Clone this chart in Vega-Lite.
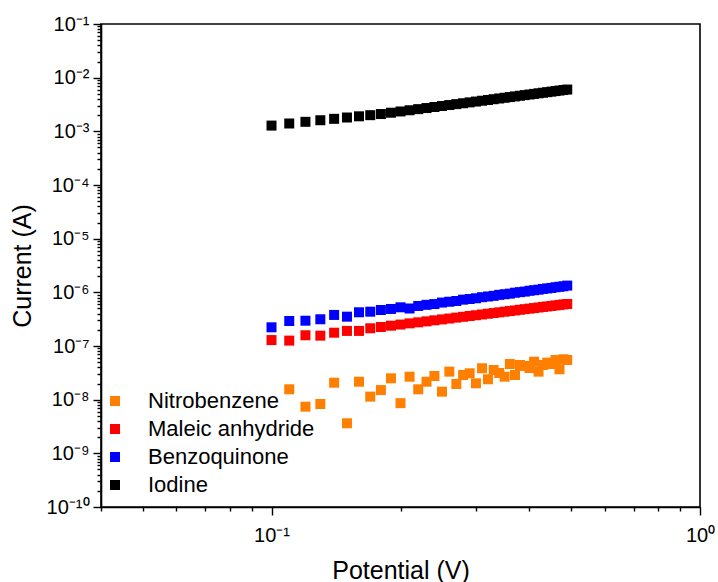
{
  "$schema": "https://vega.github.io/schema/vega-lite/v6.json",
  "width": 599,
  "height": 483,
  "autosize": {"type": "none"},
  "padding": {"left": 101, "top": 24, "right": 18, "bottom": 75},
  "background": "white",
  "config": {
    "font": "Liberation Sans",
    "view": {"stroke": "black", "strokeWidth": 1.6},
    "axis": {
      "grid": false,
      "domainColor": "black",
      "domainWidth": 1.6,
      "tickColor": "black",
      "tickWidth": 1.4,
      "labelColor": "black",
      "titleColor": "black",
      "labelFont": "Liberation Sans",
      "titleFont": "Liberation Sans",
      "labelFontSize": 20,
      "titleFontSize": 25,
      "titleFontWeight": "normal",
      "labelOverlap": false,
      "labelFlush": false
    }
  },
  "data": {
    "values": [
      {"Series": "Iodine", "Potential": 0.10, "Current": 1.28e-3},
      {"Series": "Iodine", "Potential": 0.11, "Current": 1.40e-3},
      {"Series": "Iodine", "Potential": 0.12, "Current": 1.505e-3},
      {"Series": "Iodine", "Potential": 0.13, "Current": 1.61e-3},
      {"Series": "Iodine", "Potential": 0.14, "Current": 1.71e-3},
      {"Series": "Iodine", "Potential": 0.15, "Current": 1.81e-3},
      {"Series": "Iodine", "Potential": 0.16, "Current": 1.905e-3},
      {"Series": "Iodine", "Potential": 0.17, "Current": 2.0e-3},
      {"Series": "Iodine", "Potential": 0.18, "Current": 2.10e-3},
      {"Series": "Iodine", "Potential": 0.19, "Current": 2.223e-3},
      {"Series": "Iodine", "Potential": 0.20, "Current": 2.346e-3},
      {"Series": "Iodine", "Potential": 0.21, "Current": 2.469e-3},
      {"Series": "Iodine", "Potential": 0.22, "Current": 2.592e-3},
      {"Series": "Iodine", "Potential": 0.23, "Current": 2.716e-3},
      {"Series": "Iodine", "Potential": 0.24, "Current": 2.841e-3},
      {"Series": "Iodine", "Potential": 0.25, "Current": 2.965e-3},
      {"Series": "Iodine", "Potential": 0.26, "Current": 3.090e-3},
      {"Series": "Iodine", "Potential": 0.27, "Current": 3.214e-3},
      {"Series": "Iodine", "Potential": 0.28, "Current": 3.339e-3},
      {"Series": "Iodine", "Potential": 0.29, "Current": 3.465e-3},
      {"Series": "Iodine", "Potential": 0.30, "Current": 3.590e-3},
      {"Series": "Iodine", "Potential": 0.31, "Current": 3.716e-3},
      {"Series": "Iodine", "Potential": 0.32, "Current": 3.842e-3},
      {"Series": "Iodine", "Potential": 0.33, "Current": 3.968e-3},
      {"Series": "Iodine", "Potential": 0.34, "Current": 4.095e-3},
      {"Series": "Iodine", "Potential": 0.35, "Current": 4.222e-3},
      {"Series": "Iodine", "Potential": 0.36, "Current": 4.348e-3},
      {"Series": "Iodine", "Potential": 0.37, "Current": 4.475e-3},
      {"Series": "Iodine", "Potential": 0.38, "Current": 4.602e-3},
      {"Series": "Iodine", "Potential": 0.39, "Current": 4.730e-3},
      {"Series": "Iodine", "Potential": 0.40, "Current": 4.857e-3},
      {"Series": "Iodine", "Potential": 0.41, "Current": 4.985e-3},
      {"Series": "Iodine", "Potential": 0.42, "Current": 5.112e-3},
      {"Series": "Iodine", "Potential": 0.43, "Current": 5.240e-3},
      {"Series": "Iodine", "Potential": 0.44, "Current": 5.368e-3},
      {"Series": "Iodine", "Potential": 0.45, "Current": 5.496e-3},
      {"Series": "Iodine", "Potential": 0.46, "Current": 5.624e-3},
      {"Series": "Iodine", "Potential": 0.47, "Current": 5.753e-3},
      {"Series": "Iodine", "Potential": 0.48, "Current": 5.881e-3},
      {"Series": "Iodine", "Potential": 0.49, "Current": 6.010e-3},

      {"Series": "Benzoquinone", "Potential": 0.10, "Current": 2.23e-7},
      {"Series": "Benzoquinone", "Potential": 0.11, "Current": 2.92e-7},
      {"Series": "Benzoquinone", "Potential": 0.12, "Current": 2.96e-7},
      {"Series": "Benzoquinone", "Potential": 0.13, "Current": 3.15e-7},
      {"Series": "Benzoquinone", "Potential": 0.14, "Current": 3.79e-7},
      {"Series": "Benzoquinone", "Potential": 0.15, "Current": 3.52e-7},
      {"Series": "Benzoquinone", "Potential": 0.16, "Current": 4.25e-7},
      {"Series": "Benzoquinone", "Potential": 0.17, "Current": 4.36e-7},
      {"Series": "Benzoquinone", "Potential": 0.18, "Current": 4.69e-7},
      {"Series": "Benzoquinone", "Potential": 0.19, "Current": 4.90e-7},
      {"Series": "Benzoquinone", "Potential": 0.20, "Current": 5.26e-7},
      {"Series": "Benzoquinone", "Potential": 0.21, "Current": 5.00e-7},
      {"Series": "Benzoquinone", "Potential": 0.22, "Current": 5.57e-7},
      {"Series": "Benzoquinone", "Potential": 0.23, "Current": 5.85e-7},
      {"Series": "Benzoquinone", "Potential": 0.24, "Current": 6.05e-7},
      {"Series": "Benzoquinone", "Potential": 0.25, "Current": 6.45e-7},
      {"Series": "Benzoquinone", "Potential": 0.26, "Current": 6.68e-7},
      {"Series": "Benzoquinone", "Potential": 0.27, "Current": 6.90e-7},
      {"Series": "Benzoquinone", "Potential": 0.28, "Current": 7.30e-7},
      {"Series": "Benzoquinone", "Potential": 0.29, "Current": 7.52e-7},
      {"Series": "Benzoquinone", "Potential": 0.30, "Current": 7.75e-7},
      {"Series": "Benzoquinone", "Potential": 0.31, "Current": 8.12e-7},
      {"Series": "Benzoquinone", "Potential": 0.32, "Current": 8.37e-7},
      {"Series": "Benzoquinone", "Potential": 0.33, "Current": 8.60e-7},
      {"Series": "Benzoquinone", "Potential": 0.34, "Current": 8.98e-7},
      {"Series": "Benzoquinone", "Potential": 0.35, "Current": 9.22e-7},
      {"Series": "Benzoquinone", "Potential": 0.36, "Current": 9.45e-7},
      {"Series": "Benzoquinone", "Potential": 0.37, "Current": 9.85e-7},
      {"Series": "Benzoquinone", "Potential": 0.38, "Current": 1.008e-6},
      {"Series": "Benzoquinone", "Potential": 0.39, "Current": 1.032e-6},
      {"Series": "Benzoquinone", "Potential": 0.40, "Current": 1.070e-6},
      {"Series": "Benzoquinone", "Potential": 0.41, "Current": 1.095e-6},
      {"Series": "Benzoquinone", "Potential": 0.42, "Current": 1.120e-6},
      {"Series": "Benzoquinone", "Potential": 0.43, "Current": 1.158e-6},
      {"Series": "Benzoquinone", "Potential": 0.44, "Current": 1.183e-6},
      {"Series": "Benzoquinone", "Potential": 0.45, "Current": 1.207e-6},
      {"Series": "Benzoquinone", "Potential": 0.46, "Current": 1.245e-6},
      {"Series": "Benzoquinone", "Potential": 0.47, "Current": 1.270e-6},
      {"Series": "Benzoquinone", "Potential": 0.48, "Current": 1.296e-6},
      {"Series": "Benzoquinone", "Potential": 0.49, "Current": 1.335e-6},

      {"Series": "Maleic anhydride", "Potential": 0.10, "Current": 1.29e-7},
      {"Series": "Maleic anhydride", "Potential": 0.11, "Current": 1.26e-7},
      {"Series": "Maleic anhydride", "Potential": 0.12, "Current": 1.585e-7},
      {"Series": "Maleic anhydride", "Potential": 0.13, "Current": 1.56e-7},
      {"Series": "Maleic anhydride", "Potential": 0.14, "Current": 1.77e-7},
      {"Series": "Maleic anhydride", "Potential": 0.15, "Current": 1.91e-7},
      {"Series": "Maleic anhydride", "Potential": 0.16, "Current": 1.91e-7},
      {"Series": "Maleic anhydride", "Potential": 0.17, "Current": 2.14e-7},
      {"Series": "Maleic anhydride", "Potential": 0.18, "Current": 2.26e-7},
      {"Series": "Maleic anhydride", "Potential": 0.19, "Current": 2.39e-7},
      {"Series": "Maleic anhydride", "Potential": 0.20, "Current": 2.51e-7},
      {"Series": "Maleic anhydride", "Potential": 0.21, "Current": 2.64e-7},
      {"Series": "Maleic anhydride", "Potential": 0.22, "Current": 2.76e-7},
      {"Series": "Maleic anhydride", "Potential": 0.23, "Current": 2.88e-7},
      {"Series": "Maleic anhydride", "Potential": 0.24, "Current": 3.01e-7},
      {"Series": "Maleic anhydride", "Potential": 0.25, "Current": 3.13e-7},
      {"Series": "Maleic anhydride", "Potential": 0.26, "Current": 3.25e-7},
      {"Series": "Maleic anhydride", "Potential": 0.27, "Current": 3.38e-7},
      {"Series": "Maleic anhydride", "Potential": 0.28, "Current": 3.50e-7},
      {"Series": "Maleic anhydride", "Potential": 0.29, "Current": 3.62e-7},
      {"Series": "Maleic anhydride", "Potential": 0.30, "Current": 3.74e-7},
      {"Series": "Maleic anhydride", "Potential": 0.31, "Current": 3.87e-7},
      {"Series": "Maleic anhydride", "Potential": 0.32, "Current": 3.99e-7},
      {"Series": "Maleic anhydride", "Potential": 0.33, "Current": 4.11e-7},
      {"Series": "Maleic anhydride", "Potential": 0.34, "Current": 4.24e-7},
      {"Series": "Maleic anhydride", "Potential": 0.35, "Current": 4.36e-7},
      {"Series": "Maleic anhydride", "Potential": 0.36, "Current": 4.48e-7},
      {"Series": "Maleic anhydride", "Potential": 0.37, "Current": 4.60e-7},
      {"Series": "Maleic anhydride", "Potential": 0.38, "Current": 4.73e-7},
      {"Series": "Maleic anhydride", "Potential": 0.39, "Current": 4.85e-7},
      {"Series": "Maleic anhydride", "Potential": 0.40, "Current": 4.97e-7},
      {"Series": "Maleic anhydride", "Potential": 0.41, "Current": 5.09e-7},
      {"Series": "Maleic anhydride", "Potential": 0.42, "Current": 5.22e-7},
      {"Series": "Maleic anhydride", "Potential": 0.43, "Current": 5.34e-7},
      {"Series": "Maleic anhydride", "Potential": 0.44, "Current": 5.46e-7},
      {"Series": "Maleic anhydride", "Potential": 0.45, "Current": 5.58e-7},
      {"Series": "Maleic anhydride", "Potential": 0.46, "Current": 5.70e-7},
      {"Series": "Maleic anhydride", "Potential": 0.47, "Current": 5.83e-7},
      {"Series": "Maleic anhydride", "Potential": 0.48, "Current": 5.95e-7},
      {"Series": "Maleic anhydride", "Potential": 0.49, "Current": 6.07e-7},

      {"Series": "Nitrobenzene", "Potential": 0.11, "Current": 1.56e-8},
      {"Series": "Nitrobenzene", "Potential": 0.12, "Current": 7.4e-9},
      {"Series": "Nitrobenzene", "Potential": 0.13, "Current": 8.3e-9},
      {"Series": "Nitrobenzene", "Potential": 0.14, "Current": 2.07e-8},
      {"Series": "Nitrobenzene", "Potential": 0.15, "Current": 3.63e-9},
      {"Series": "Nitrobenzene", "Potential": 0.16, "Current": 2.16e-8},
      {"Series": "Nitrobenzene", "Potential": 0.17, "Current": 1.14e-8},
      {"Series": "Nitrobenzene", "Potential": 0.18, "Current": 1.51e-8},
      {"Series": "Nitrobenzene", "Potential": 0.19, "Current": 2.50e-8},
      {"Series": "Nitrobenzene", "Potential": 0.20, "Current": 8.6e-9},
      {"Series": "Nitrobenzene", "Potential": 0.21, "Current": 2.68e-8},
      {"Series": "Nitrobenzene", "Potential": 0.22, "Current": 1.56e-8},
      {"Series": "Nitrobenzene", "Potential": 0.23, "Current": 2.16e-8},
      {"Series": "Nitrobenzene", "Potential": 0.24, "Current": 2.76e-8},
      {"Series": "Nitrobenzene", "Potential": 0.25, "Current": 1.41e-8},
      {"Series": "Nitrobenzene", "Potential": 0.26, "Current": 3.33e-8},
      {"Series": "Nitrobenzene", "Potential": 0.27, "Current": 1.96e-8},
      {"Series": "Nitrobenzene", "Potential": 0.28, "Current": 2.88e-8},
      {"Series": "Nitrobenzene", "Potential": 0.29, "Current": 3.10e-8},
      {"Series": "Nitrobenzene", "Potential": 0.30, "Current": 2.02e-8},
      {"Series": "Nitrobenzene", "Potential": 0.31, "Current": 3.85e-8},
      {"Series": "Nitrobenzene", "Potential": 0.32, "Current": 2.40e-8},
      {"Series": "Nitrobenzene", "Potential": 0.33, "Current": 3.57e-8},
      {"Series": "Nitrobenzene", "Potential": 0.34, "Current": 3.14e-8},
      {"Series": "Nitrobenzene", "Potential": 0.35, "Current": 2.68e-8},
      {"Series": "Nitrobenzene", "Potential": 0.36, "Current": 4.62e-8},
      {"Series": "Nitrobenzene", "Potential": 0.37, "Current": 2.88e-8},
      {"Series": "Nitrobenzene", "Potential": 0.38, "Current": 4.43e-8},
      {"Series": "Nitrobenzene", "Potential": 0.39, "Current": 4.25e-8},
      {"Series": "Nitrobenzene", "Potential": 0.40, "Current": 3.89e-8},
      {"Series": "Nitrobenzene", "Potential": 0.41, "Current": 5.10e-8},
      {"Series": "Nitrobenzene", "Potential": 0.42, "Current": 3.33e-8},
      {"Series": "Nitrobenzene", "Potential": 0.43, "Current": 4.43e-8},
      {"Series": "Nitrobenzene", "Potential": 0.44, "Current": 4.89e-8},
      {"Series": "Nitrobenzene", "Potential": 0.45, "Current": 4.62e-8},
      {"Series": "Nitrobenzene", "Potential": 0.46, "Current": 5.49e-8},
      {"Series": "Nitrobenzene", "Potential": 0.47, "Current": 3.68e-8},
      {"Series": "Nitrobenzene", "Potential": 0.48, "Current": 5.66e-8},
      {"Series": "Nitrobenzene", "Potential": 0.49, "Current": 5.49e-8}
    ]
  },
  "mark": {"type": "point", "shape": "square", "filled": true, "size": 100, "opacity": 1},
  "encoding": {
    "x": {
      "field": "Potential",
      "type": "quantitative",
      "title": "Potential (V)",
      "scale": {"type": "log", "domain": [0.04, 1], "nice": false},
      "axis": {
        "values": [0.04, 0.05, 0.06, 0.07, 0.08, 0.09, 0.1, 0.2, 0.3, 0.4, 0.5, 0.6, 0.7, 0.8, 0.9, 1],
        "tickSize": {"condition": {"test": "abs(log(datum.value)/LN10 - round(log(datum.value)/LN10)) < 0.001", "value": 8}, "value": 4},
        "labelExpr": "abs(log(datum.value)/LN10 - round(log(datum.value)/LN10)) < 0.001 ? '10' + (round(log(datum.value)/LN10) < 0 ? '⁻' : '') + ['⁰','¹','²','³','⁴','⁵','⁶','⁷','⁸','⁹'][abs(round(log(datum.value)/LN10))] : ''",
        "labelPadding": 10,
        "titlePadding": 13
      }
    },
    "y": {
      "field": "Current",
      "type": "quantitative",
      "title": "Current (A)",
      "scale": {"type": "log", "domain": [1e-10, 0.1], "nice": false},
      "axis": {
        "values": [1e-10, 2e-10, 3e-10, 4e-10, 5e-10, 6e-10, 7e-10, 8e-10, 9e-10,
                   1e-9, 2e-9, 3e-9, 4e-9, 5e-9, 6e-9, 7e-9, 8e-9, 9e-9,
                   1e-8, 2e-8, 3e-8, 4e-8, 5e-8, 6e-8, 7e-8, 8e-8, 9e-8,
                   1e-7, 2e-7, 3e-7, 4e-7, 5e-7, 6e-7, 7e-7, 8e-7, 9e-7,
                   1e-6, 2e-6, 3e-6, 4e-6, 5e-6, 6e-6, 7e-6, 8e-6, 9e-6,
                   1e-5, 2e-5, 3e-5, 4e-5, 5e-5, 6e-5, 7e-5, 8e-5, 9e-5,
                   1e-4, 2e-4, 3e-4, 4e-4, 5e-4, 6e-4, 7e-4, 8e-4, 9e-4,
                   1e-3, 2e-3, 3e-3, 4e-3, 5e-3, 6e-3, 7e-3, 8e-3, 9e-3,
                   1e-2, 2e-2, 3e-2, 4e-2, 5e-2, 6e-2, 7e-2, 8e-2, 9e-2, 1e-1],
        "tickSize": {"condition": {"test": "abs(log(datum.value)/LN10 - round(log(datum.value)/LN10)) < 0.001", "value": 8}, "value": 4},
        "labelExpr": "abs(log(datum.value)/LN10 - round(log(datum.value)/LN10)) < 0.001 ? '10' + (round(log(datum.value)/LN10) < 0 ? '⁻' : '') + (abs(round(log(datum.value)/LN10)) >= 10 ? '¹⁰' : ['⁰','¹','²','³','⁴','⁵','⁶','⁷','⁸','⁹'][abs(round(log(datum.value)/LN10))]) : ''",
        "labelPadding": 4,
        "titlePadding": 11
      }
    },
    "color": {
      "field": "Series",
      "type": "nominal",
      "scale": {
        "domain": ["Nitrobenzene", "Maleic anhydride", "Benzoquinone", "Iodine"],
        "range": ["#FF8000", "#FF0000", "#0000FF", "#000000"]
      },
      "legend": {
        "title": null,
        "orient": "none",
        "legendX": 3,
        "legendY": 366,
        "padding": 0,
        "symbolType": "square",
        "symbolSize": 100,
        "symbolStrokeWidth": 0,
        "labelFontSize": 22,
        "labelFont": "Liberation Sans",
        "labelColor": "black",
        "labelOffset": 22,
        "rowPadding": 6,
        "labelLimit": 300
      }
    }
  }
}
